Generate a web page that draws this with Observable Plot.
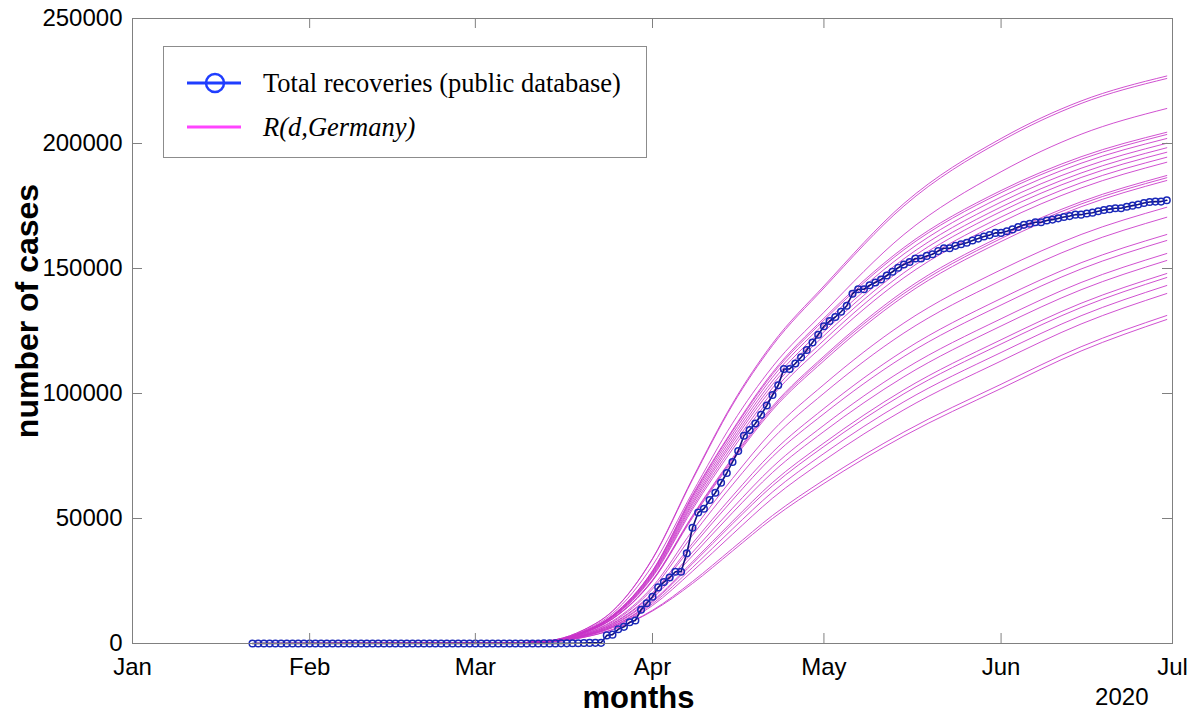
<!DOCTYPE html>
<html><head><meta charset="utf-8">
<script src="https://cdn.jsdelivr.net/npm/d3@7"></script>
<script src="https://cdn.jsdelivr.net/npm/@observablehq/plot@0.6"></script>
<style>
body{margin:0;background:#fff;}
#wrap{position:relative;width:1197px;height:715px;font-family:"Liberation Sans",Arial,Helvetica,sans-serif;}
#legend{position:absolute;left:163px;top:46px;width:484px;height:112px;border:1px solid #8c8c8c;background:#fff;box-sizing:border-box;}
#legend svg{display:block}
</style></head>
<body><div id="wrap"><div id="chart"></div><div id="legend"></div></div>
<script>
// ---------- data ----------
// Total recoveries (public database), daily from 2020-01-22 to 2020-06-30
const recStart = "2020-01-22";
const recJanFeb = [0,0,0,0,0,0,0,0,0,0, 0,0,0,0,0,0,0,0,0,0,0,0,1,1,1,1,1,1,12,12,12,12,12,12,14,14,14,14,14];
const recMar = [14,14,16,16,16,16,16,16,18,18,25,25,46,46,46,67,67,105,113,180,233,266,266,3243,3547,5673,6658,8481,9211,13500,16100];
const recApr = [18700,22440,24575,26400,28700,28700,36081,46300,52407,53913,57400,60300,64300,68200,72600,77000,83114,85400,88000,91500,95200,99400,103300,109800,109800,112000,114500,117400,120400,123500];
const recMay = [126900,129000,130600,132700,135100,139900,141700,141700,143300,144400,145617,147200,148700,150300,151597,152600,154011,154011,155041,155681,156966,158087,158087,159064,159716,160281,161199,161967,162820,163360,164245];
const recJun = [164245,164908,165632,166609,167453,167909,168480,168480,169224,169556,170051,170630,170961,171535,171535,172018,172332,172903,173410,173738,174103,174103,174686,175143,175574,176225,176630,176764,176764,177276];

// Model curves R(d,Germany), values read at these dates (thousands of cases)
const fitDates = ["2020-01-22","2020-03-01","2020-03-10","2020-03-15","2020-03-20","2020-03-25","2020-04-01","2020-04-08","2020-04-15","2020-04-22","2020-05-01","2020-05-15","2020-06-01","2020-06-15","2020-06-30"];
const r01 = [0,0.1,0.4,1.5,5.5,13.0,34.0,66.0,96.0,120.0,143.0,176.0,202.0,217.0,227.0];
const r02 = [0,0.1,0.4,1.5,5.5,12.9,33.8,65.5,95.4,119.2,142.2,175.0,201.0,216.0,226.0];
const r03 = [0,0.1,0.4,1.4,5.1,12.0,31.2,60.4,88.1,110.7,132.5,163.6,188.7,203.7,214.0];
const r04 = [0,0.1,0.4,1.3,4.8,11.3,29.1,59.4,85.4,108.4,130.1,158.4,181.2,194.7,204.5];
const r05 = [0,0.1,0.4,1.3,4.8,11.2,29.0,58.9,84.9,107.7,129.3,157.5,180.3,193.7,203.6];
const r06 = [0,0.1,0.4,1.3,4.7,11.1,28.6,58.2,83.8,106.5,127.9,155.8,178.6,192.1,202.0];
const r07 = [0,0.1,0.4,1.3,4.7,10.9,28.2,57.3,82.6,105.0,126.2,153.9,176.6,190.1,200.1];
const r08 = [0,0.1,0.4,1.3,4.6,10.8,27.8,56.4,81.4,103.6,124.7,152.1,174.6,188.2,198.3];
const r09 = [0,0.1,0.4,1.3,4.6,10.7,27.4,55.6,80.3,102.2,123.1,150.3,172.8,186.4,196.5];
const r10 = [0,0.1,0.4,1.3,4.5,10.5,27.0,54.6,79.0,100.6,121.3,148.3,170.6,184.3,194.5];
const r11 = [0,0.1,0.4,1.3,4.4,10.3,26.6,53.7,77.7,99.1,119.5,146.3,168.5,182.2,192.5];
const r12 = [0,0.1,0.4,1.2,4.3,9.9,25.4,51.2,74.3,94.9,114.9,141.0,162.9,176.7,187.2];
const r13 = [0,0.1,0.4,1.2,4.2,9.9,25.2,50.8,73.7,94.2,114.1,140.0,162.0,175.8,186.3];
const r14 = [0,0.1,0.4,1.2,4.2,9.8,25.0,50.3,73.0,93.4,113.1,138.9,160.8,174.7,185.2];
const r15 = [0,0.1,0.4,1.1,3.9,9.0,22.7,45.2,66.0,85.0,103.6,128.2,149.5,163.6,174.5];
const r16 = [0,0.1,0.4,1.1,3.8,8.6,21.8,43.3,63.5,81.9,100.1,124.2,145.2,159.4,170.5];
const r17 = [0,0.1,0.4,1.0,3.5,8.1,20.3,40.1,59.0,76.5,94.0,117.2,138.0,152.3,163.6];
const r18 = [0,0.1,0.4,1.0,3.5,7.9,19.8,38.9,57.4,74.7,91.9,114.8,135.4,149.8,161.2];
const r19 = [0,0.1,0.4,1.0,3.3,7.5,18.7,36.5,54.1,70.6,87.3,109.6,129.9,144.4,156.0];
const r20 = [0,0.1,0.4,1.0,3.2,7.3,18.1,35.1,52.3,68.4,84.8,106.7,127.0,141.5,153.2];
const r21 = [0,0.1,0.4,0.9,3.1,6.9,17.0,32.7,48.9,64.4,80.2,101.5,121.5,136.1,148.0];
const r22 = [0,0.1,0.4,0.9,3.0,6.8,16.6,31.9,47.9,63.1,78.8,99.9,119.8,134.4,146.4];
const r23 = [0,0.1,0.4,0.9,2.9,6.5,15.9,30.4,45.8,60.6,76.0,96.7,116.4,131.1,143.2];
const r24 = [0,0.1,0.4,0.9,2.8,6.3,15.2,28.9,43.7,58.1,73.2,93.5,113.0,127.8,140.0];
const r25 = [0,0.1,0.4,0.8,2.5,5.6,13.3,24.8,38.0,51.2,65.4,84.6,103.7,118.7,131.2];
const r26 = [0,0.1,0.4,0.8,2.5,5.5,13.0,24.0,37.0,50.0,64.0,83.0,102.0,117.0,129.6];
const fitCurves = [r01,r02,r03,r04,r05,r06,r07,r08,r09,r10,r11,r12,r13,r14,r15,r16,r17,r18,r19,r20,r21,r22,r23,r24,r25,r26];

// Axes
const monthTicks = ["2020-01-01","2020-02-01","2020-03-01","2020-04-01","2020-05-01","2020-06-01","2020-07-01"];
const yTicks = [0,50000,100000,150000,200000,250000];
const legendLabels = ["Total recoveries (public database)", "R(d,Germany)"];
const xTitle = "months", yTitle = "number of cases", yearLabel = "2020";

// ---------- build tables ----------
const parse = d3.utcParse("%Y-%m-%d");
const recValues = [...recJanFeb, ...recMar, ...recApr, ...recMay, ...recJun];
const recRows = recValues.map((v, i) => ({date: d3.utcDay.offset(parse(recStart), i), value: v}));
const fitRows = fitCurves.flatMap((c, k) => c.map((v, i) => ({curve: k, date: parse(fitDates[i]), value: v * 1000})));
const xTicks = monthTicks.map(parse);

const W = 1197, H = 715;
const mL = 132, mR = 25, mT = 18, mB = 72;
const innerW = W - mL - mR, innerH = H - mT - mB;
const gray = "#808080";

const chart = Plot.plot({
  width: W, height: H,
  marginLeft: mL, marginRight: mR, marginTop: mT, marginBottom: mB,
  style: {fontFamily: '"Liberation Sans", Arial, Helvetica, sans-serif', fontSize: "24px", color: "#000", background: "#fff"},
  x: {type: "utc", domain: [xTicks[0], xTicks[xTicks.length - 1]], label: null},
  y: {domain: [0, 250000], label: null},
  marks: [
    Plot.line(fitRows, {x: "date", y: "value", z: "curve", curve: "monotone-x", stroke: "#c833c8", strokeWidth: 1, strokeOpacity: 0.85}),
    Plot.line(recRows, {x: "date", y: "value", stroke: "#12127e", strokeWidth: 1.6}),
    Plot.dot(recRows, {x: "date", y: "value", r: 3.3, stroke: "#1a28b8", strokeWidth: 1.5, fill: "none"}),
    Plot.frame({stroke: gray}),
    Plot.tickX(xTicks, {x: d => d, stroke: gray, insetTop: innerH - 10}),
    Plot.tickX(xTicks, {x: d => d, stroke: gray, insetBottom: innerH - 10}),
    Plot.tickY(yTicks, {y: d => d, stroke: gray, insetRight: innerW - 10}),
    Plot.tickY(yTicks, {y: d => d, stroke: gray, insetLeft: innerW - 10}),
    Plot.axisX(xTicks, {tickSize: 0, tickPadding: 14, tickFormat: d3.utcFormat("%b"), fontSize: 24, label: null}),
    Plot.axisY(yTicks, {tickSize: 0, tickPadding: 10, tickFormat: d => String(d), fontSize: 24, label: null}),
    Plot.text([yearLabel], {text: d => d, frameAnchor: "bottom-right", dx: -24, dy: 44, lineAnchor: "top", textAnchor: "end", fontSize: 24}),
    Plot.text([xTitle], {text: d => d, frameAnchor: "bottom", dx: -14, dy: 42, lineAnchor: "top", textAnchor: "middle", fontSize: 31, fontWeight: "bold"}),
    Plot.text([yTitle], {text: d => d, frameAnchor: "left", dx: -105, dy: -20, rotate: -90, lineAnchor: "middle", textAnchor: "middle", fontSize: 32, fontWeight: "bold"})
  ]
});
document.getElementById("chart").appendChild(chart);

// ---------- legend ----------
const lg = d3.select("#legend").append("svg").attr("width", 482).attr("height", 110);
lg.append("line").attr("x1", 23).attr("x2", 77).attr("y1", 36).attr("y2", 36).attr("stroke", "#1f3dff").attr("stroke-width", 3);
lg.append("circle").attr("cx", 51).attr("cy", 36).attr("r", 9).attr("stroke", "#1f3dff").attr("stroke-width", 2.5).attr("fill", "none");
lg.append("text").attr("x", 99).attr("y", 36).attr("dy", "0.35em").attr("font-family", '"Liberation Serif", "Times New Roman", serif').attr("font-size", 26.5).text(legendLabels[0]);
lg.append("line").attr("x1", 23).attr("x2", 77).attr("y1", 80).attr("y2", 80).attr("stroke", "#ff44ff").attr("stroke-width", 3);
lg.append("text").attr("x", 99).attr("y", 80).attr("dy", "0.35em").attr("font-family", '"Liberation Serif", "Times New Roman", serif').attr("font-style", "italic").attr("font-size", 26.5).text(legendLabels[1]);
</script></body></html>
